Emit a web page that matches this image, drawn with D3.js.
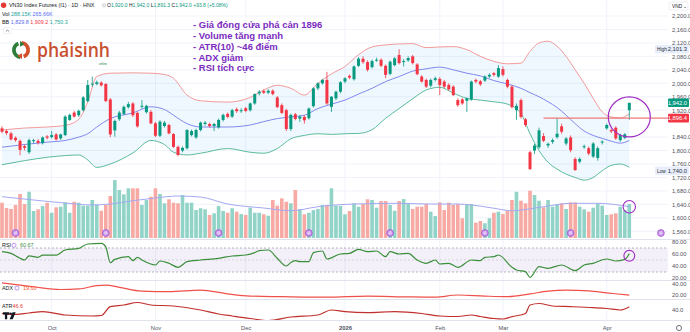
<!DOCTYPE html>
<html><head><meta charset="utf-8">
<script src="https://cdn.jsdelivr.net/npm/d3@7/dist/d3.min.js"></script>
<style>
html,body{margin:0;padding:0;background:#fff;}
svg{display:block;font-family:"Liberation Sans",Arial,sans-serif;}
</style></head><body><div id="chart"></div>
<script>
// ---- data ----
const opens  = [1866,1858,1851,1838,1829,1813,1795,1828,1829,1822,1842,1840,1848,1836,1846,1891,1913,1905,1920,1947,
  1996,1998,2002,1998,1952,1860,1893,1909,1929,1940,1912,1930,1914,1915,1881,1844,1873,1876,1849,1811,
  1800,1807,1846,1839,1861,1879,1879,1873,1869,1891,1909,1901,1923,1920,1926,1920,1940,1970,1977,1972,
  1978,1958,1935,1920,1864,1908,1895,1900,1896,1932,1985,2000,2010,1930,1955,1975,2005,2022,2012,2052,
  2073,2063,2048,2070,2070,2052,2028,2054,2084,2066,2068,2080,2056,2020,2010,1993,2010,2013,2005,1995,
  1990,1950,1952,1948,1952,2010,2006,2008,2020,2030,2020,2042,2010,1990,1920,1950,1893,1795,1800,1810,
  1843,1815,1826,1840,1872,1821,1839,1775,1767,1810,1807,1782,1778,1824,1866,1861,1868,1831,1838,1920];
const highs  = [1872,1862,1856,1842,1833,1818,1836,1835,1834,1842,1846,1858,1852,1850,1905,1910,1918,1922,1962,2010,
  2020,2008,2006,2000,1956,1892,1918,1934,1945,1944,1916,1950,1936,1920,1885,1890,1888,1880,1852,1815,
  1812,1864,1862,1865,1886,1888,1883,1882,1895,1910,1913,1924,1928,1926,1930,1943,1970,1980,1982,1982,
  1982,1962,1940,1924,1910,1912,1906,1905,1928,1988,2003,2013,2034,1962,1978,2006,2018,2026,2053,2078,
  2080,2068,2070,2076,2074,2056,2068,2078,2101,2072,2080,2084,2060,2024,2014,2014,2020,2018,2010,2000,
  1994,1955,1956,1958,2008,2014,2010,2024,2030,2034,2054,2050,2014,1994,1940,1955,1897,1800,1820,1868,
  1852,1824,1836,1896,1880,1840,1845,1780,1780,1818,1812,1825,1812,1830,1880,1866,1872,1850,1852,1942];
const lows   = [1852,1846,1830,1826,1786,1800,1790,1822,1818,1818,1833,1836,1830,1832,1843,1888,1898,1900,1916,1944,
  1990,1994,1990,1944,1840,1841,1888,1905,1925,1900,1868,1925,1910,1878,1840,1840,1868,1848,1808,1783,
  1795,1803,1842,1835,1857,1874,1868,1858,1865,1886,1896,1897,1912,1912,1914,1916,1936,1964,1968,1968,
  1964,1926,1908,1858,1858,1890,1885,1880,1892,1928,1980,1996,1936,1915,1950,1970,2000,2012,2008,2048,
  2058,2035,2044,2064,2048,2015,2024,2050,2056,2050,2064,2056,2024,2002,1986,1988,2005,1965,1985,1978,
  1962,1930,1936,1915,1948,2000,1992,2004,2016,2020,2016,2020,1985,1925,1891,1895,1870,1742,1790,1805,
  1825,1808,1820,1835,1850,1815,1795,1740,1762,1805,1786,1778,1770,1818,1862,1852,1832,1826,1834,1891.3];
const closes = [1856,1852,1833,1831,1802,1808,1831,1831,1823,1839,1838,1846,1833,1848,1901,1906,1901,1918,1958,1995,
  1999,2003,1994,1947,1848,1888,1913,1930,1938,1905,1872,1933,1933,1881,1844,1886,1883,1851,1811,1787,
  1808,1861,1858,1861,1883,1883,1873,1879,1891,1906,1900,1920,1917,1920,1918,1940,1968,1975,1972,1978,
  1968,1929,1912,1864,1906,1894,1901,1890,1925,1985,2000,2010,1940,1960,1975,2003,2015,2017,2050,2073,
  2063,2040,2066,2070,2052,2025,2064,2074,2060,2066,2075,2060,2027,2005,1990,2010,2015,1995,1990,1982,
  1965,1935,1940,1955,2005,2005,1997,2020,2025,2025,2045,2025,1990,1929,1933,1900,1876,1745,1815,1860,
  1829,1820,1831,1850,1856,1836,1801,1742,1775,1813,1791,1821,1807,1827,1876,1857,1836,1846,1848.2,1942];
const volumes = [299,254,246,280,373,288,392,229,243,271,299,214,260,265,302,214,307,299,274,274,
  322,280,231,280,356,491,407,370,421,421,421,280,322,350,421,373,294,328,299,294,
  364,299,299,237,252,243,195,209,271,229,214,252,223,203,195,257,214,214,201,189,
  322,274,336,307,294,407,246,201,214,237,246,280,280,421,274,271,201,229,294,265,
  288,328,322,257,313,313,280,231,313,330,288,246,265,265,288,223,186,302,237,299,
  280,288,167,288,288,130,144,125,167,214,223,203,231,322,392,316,294,401,364,316,
  260,322,265,285,294,246,302,302,265,243,223,257,294,274,195,201,209,265,237,288.15];

const bbIdx   = [0,5,10,14,17,19,21,24,29,33,36,38,41,44,50,55,58,61,64,67,70,73,76,79,82,85,88,91,94,97,
  100,103,106,109,112,115,117,119,121,123,125,127,129,131,133,135,137,139];
const bbUpper = [1861,1867,1870,1875,1893,1945,2020,2030,2031,2030,2026,2015,1965,1948,1944,1958,1980,1994,1985,1965,
  2000,2028,2050,2085,2108,2114,2117,2118,2106,2108,2109,2100,2080,2065,2058,2060,2095,2120,2125,2110,
  2080,2040,2000,1955,1915,1900,1897,1909.2];
const bbBasis = [1810,1818,1825,1830,1840,1850,1870,1895,1912,1930,1922,1905,1880,1870,1870,1876,1886,1895,1900,1905,
  1925,1938,1950,1968,1985,2005,2020,2036,2043,2048,2040,2030,2022,2008,1998,1985,1972,1960,1945,1928,
  1905,1880,1858,1845,1836,1828,1822,1829.8];
const bbLower = [1758,1770,1780,1785,1787,1772,1750,1760,1793,1830,1818,1795,1787,1792,1806,1795,1792,1806,1835,1845,
  1850,1848,1850,1851,1862,1896,1925,1954,1980,1988,1971,1955,1950,1945,1938,1910,1850,1800,1765,1745,
  1730,1720,1712,1720,1740,1756,1760,1750.3];

const volMaIdx = [0,7,14,20,24,29,34,39,44,50,58,64,70,78,88,95,101,104,109,113,120,126,132,139];
const volMaVal = [350,322,296,280,288,316,339,356,347,288,254,231,265,288,294,288,288,280,252,231,265,294,294,265.66];

const rsiIdx = [0,2,4,5,6,8,9,12,14,17,19,22,23,24,25,28,29,30,31,34,35,37,39,41,44,48,51,54,56,57,
  59,61,63,64,65,66,68,69,71,72,75,77,79,81,83,85,86,88,90,92,94,96,97,99,101,104,106,107,109,110,
  113,114,116,117,119,121,124,127,129,131,134,136,138,139];
const rsiVal = [64,61,53,50,57,54.5,58,58,66.7,69.4,76.7,77.8,72,45.6,51,55.5,48.9,54.5,50,41.7,48.3,44.5,37.8,47.2,50,52.8,56.7,58.3,62.2,65.6,
  66.7,52.8,40,46,48.9,47.2,47.2,62.2,65,51.7,60,61,67.8,63.9,65,55.5,63.9,60,61,50,44.5,50,43.3,44.5,37.8,50,49,54.5,55.5,58.3,
  37.8,33.3,30.6,21.1,38.9,36.1,41.7,32.2,41.7,44.5,51.7,48.3,51,60.67];

const adxIdx = [0,7,13,17,21,23,26,31,37,44,50,55,62,72,81,90,96,101,107,112,117,121,125,130,134,139];
const adxVal = [42,35,30,31,37,38,34,27,26,29,22,18,17,16,18,16.5,16,20,18,17,22,27,29,27.5,24,19.6];

const atrIdx = [0,2,6,9,14,20,22,24,27,30,33,38,44,48,51,55,59,64,70,73,76,81,87,93,97,101,104,106,109,111,
  113,116,117,119,122,126,131,134,137,139];
const atrVal = [33,31,34,36.7,30,28,29,46.7,50,55,50,48,40,32,28,23,19,26,30,40,36.7,34.7,36.7,33,28,27,30,27,23,22,
  26.7,33,50,53,48,46.7,44.7,43,40,46.6];

const eventIdx = [3,23,48,68,86,107,126,146];

const tickIdx = [11,34,54,76,97,111,134];
const tickLabels = ['Oct','Nov','Dec','2026','Feb','Mar','Apr'];
const priceTicks = [1560,1600,1640,1680,1720,1760,1800,1840,1920,1960,2000,2040,2080,2120,2160,2200];
const rsiTicks = [20,40,60,80];
const adxTicks = [20,40];
const atrTicks = [40];

const notes = ['- Giá đóng cửa phá cản 1896','- Volume tăng mạnh','- ATR(10) ~46 điểm','- ADX giảm','- RSI tích cực'];
const levelPrice = 1896.4, levelStart = 120;

// ---- setup ----
const width = 690, height = 332, plotR = 668;
const green = '#089981', red = '#f23645';
const svg = d3.select('#chart').append('svg').attr('width', width).attr('height', height);
const defs = svg.append('defs');
function clip(id, y0, y1) {
  defs.append('clipPath').attr('id', id).append('rect').attr('x', 0).attr('y', y0).attr('width', plotR).attr('height', y1 - y0);
}
clip('cP', 0, 239); clip('cR', 240, 280); clip('cA', 281, 299); clip('cT', 300, 320);

const n = closes.length;
const x = d3.scaleLinear().domain([0, n - 1]).range([2, 629.3]);
const yP = d3.scaleLinear().domain([1560, 2200]).range([231.3, 16]);
const yV = d3.scaleLinear().domain([0, 500]).range([238, 179]);
const yR = d3.scaleLinear().domain([0, 100]).range([290, 230]);
const yA = d3.scaleLinear().domain([0, 40]).range([306, 284]);
const yT = d3.scaleLinear().domain([0, 40]).range([330, 310]);

const bars = closes.map((c, i) => ({i, o: opens[i], h: highs[i], l: lows[i], c, v: volumes[i]}));

// grid
const grid = svg.append('g');
grid.selectAll('line.v').data(tickIdx).join('line')
  .attr('x1', d => x(d)).attr('x2', d => x(d)).attr('y1', 0).attr('y2', 320)
  .attr('stroke', '#f0f3fa');
grid.selectAll('line.h').data(priceTicks).join('line')
  .attr('x1', 0).attr('x2', plotR).attr('y1', d => yP(d)).attr('y2', d => yP(d))
  .attr('stroke', '#f0f3fa');
grid.selectAll('line.sep').data([239.5, 280.5, 299.5, 320.5]).join('line')
  .attr('x1', 0).attr('x2', width).attr('y1', d => d).attr('y2', d => d)
  .attr('stroke', '#e0e3eb');

// volume
const pane = svg.append('g').attr('clip-path', 'url(#cP)');
pane.selectAll('rect.vol').data(bars).join('rect')
  .attr('x', d => x(d.i) - 1.8).attr('width', 3.6)
  .attr('y', d => yV(d.v)).attr('height', d => yV(0) - yV(d.v))
  .attr('fill', d => d.c >= d.o ? '#92d3c8' : '#f7a9a3');
const vma = volMaIdx.map((d, k) => [d, volMaVal[k]]);
pane.append('path').datum(vma)
  .attr('d', d3.line().x(d => x(d[0])).y(d => yV(d[1])).curve(d3.curveMonotoneX))
  .attr('fill', 'none').attr('stroke', '#a4a9f2').attr('stroke-width', 1);

// bollinger
const bb = bbIdx.map((d, k) => ({i: d, u: bbUpper[k], m: bbBasis[k], l: bbLower[k]}));
pane.append('path').datum(bb)
  .attr('d', d3.area().x(d => x(d.i)).y0(d => yP(d.l)).y1(d => yP(d.u)).curve(d3.curveMonotoneX))
  .attr('fill', 'rgba(33,150,243,0.07)');
[['u', '#f49a9a'], ['m', '#8088ee'], ['l', '#5cbb9c']].forEach(([k, col]) => {
  pane.append('path').datum(bb)
    .attr('d', d3.line().x(d => x(d.i)).y(d => yP(d[k])).curve(d3.curveMonotoneX))
    .attr('fill', 'none').attr('stroke', col).attr('stroke-width', 1);
});

// candles
pane.selectAll('line.wick').data(bars).join('line')
  .attr('x1', d => x(d.i)).attr('x2', d => x(d.i))
  .attr('y1', d => yP(d.h)).attr('y2', d => yP(d.l))
  .attr('stroke', d => d.c >= d.o ? green : red).attr('stroke-width', 0.8);
pane.selectAll('rect.body').data(bars).join('rect')
  .attr('x', d => x(d.i) - 1.5).attr('width', 3)
  .attr('y', d => yP(Math.max(d.o, d.c)))
  .attr('height', d => Math.max(1, Math.abs(yP(d.o) - yP(d.c))))
  .attr('fill', d => d.c >= d.o ? green : red);

// event markers
const ev = svg.append('g');
ev.selectAll('circle').data(eventIdx).join('circle')
  .attr('cx', d => x(d)).attr('cy', 233).attr('r', 3.4)
  .attr('fill', '#c58ee8').attr('stroke', '#a55ad8').attr('stroke-width', 0.8);
ev.selectAll('path').data(eventIdx).join('path')
  .attr('d', d => `M${x(d) - 1.8},232.2h3.2l-0.8,-0.8M${x(d) + 1.8},233.8h-3.2l0.8,0.8`)
  .attr('fill', 'none').attr('stroke', '#fff').attr('stroke-width', 0.7);

// level line + circles
svg.append('line').attr('x1', x(levelStart)).attr('x2', plotR)
  .attr('y1', yP(levelPrice)).attr('y2', yP(levelPrice))
  .attr('stroke', '#f07878').attr('stroke-width', 1.4);
const circ = '#a02dc4';
svg.append('ellipse').attr('cx', x(n - 1)).attr('cy', yP(1900)).attr('rx', 21).attr('ry', 20)
  .attr('fill', 'none').attr('stroke', circ).attr('stroke-width', 1.2);
svg.append('circle').attr('cx', x(n - 1)).attr('cy', yV(265)).attr('r', 6.2)
  .attr('fill', 'none').attr('stroke', circ).attr('stroke-width', 1.1);

// RSI pane
const rsiG = svg.append('g').attr('clip-path', 'url(#cR)');
rsiG.append('rect').attr('x', 0).attr('width', plotR).attr('y', yR(70)).attr('height', yR(30) - yR(70))
  .attr('fill', 'rgba(126,87,194,0.09)');
[[70, '#9598a1', '2,2'], [30, '#9598a1', '2,2'], [50, '#c4c6cc', '2,2']].forEach(([v, c, da]) => {
  rsiG.append('line').attr('x1', 0).attr('x2', plotR).attr('y1', yR(v)).attr('y2', yR(v))
    .attr('stroke', c).attr('stroke-dasharray', da).attr('stroke-width', 0.7);
});
const rsiPts = rsiIdx.map((d, k) => [d, rsiVal[k]]);
rsiG.append('path').datum(rsiPts)
  .attr('d', d3.line().x(d => x(d[0])).y(d => yR(d[1])).curve(d3.curveMonotoneX))
  .attr('fill', 'none').attr('stroke', '#3b8f3b').attr('stroke-width', 1.2);
svg.append('circle').attr('cx', x(n - 1)).attr('cy', yR(57)).attr('r', 5.4)
  .attr('fill', 'none').attr('stroke', circ).attr('stroke-width', 1.1);

// ADX + ATR panes
const adxPts = adxIdx.map((d, k) => [d, adxVal[k]]);
svg.append('g').attr('clip-path', 'url(#cA)').append('path').datum(adxPts)
  .attr('d', d3.line().x(d => x(d[0])).y(d => yA(d[1])).curve(d3.curveMonotoneX))
  .attr('fill', 'none').attr('stroke', '#f0504a').attr('stroke-width', 1.2);
const atrPts = atrIdx.map((d, k) => [d, atrVal[k]]);
svg.append('g').attr('clip-path', 'url(#cT)').append('path').datum(atrPts)
  .attr('d', d3.line().x(d => x(d[0])).y(d => yT(d[1])).curve(d3.curveMonotoneX))
  .attr('fill', 'none').attr('stroke', '#c0302c').attr('stroke-width', 1.2);

// axes
function rightAxis(scale, ticks, fmt) {
  const g = svg.append('g').attr('transform', `translate(${plotR + 1},0)`)
    .call(d3.axisRight(scale).tickValues(ticks).tickSize(0).tickPadding(3).tickFormat(fmt));
  g.select('.domain').remove();
  g.selectAll('text').attr('font-size', 5.8).attr('fill', '#50535e').attr('font-family', '"Liberation Sans",Arial,sans-serif');
  return g;
}
rightAxis(yP, priceTicks, d3.format(',.1f'));
rightAxis(yR, rsiTicks, d3.format('.2f'));
rightAxis(yA, adxTicks, d3.format('.2f'));
rightAxis(yT, atrTicks, d3.format('.1f'));

const xa = svg.append('g').attr('transform', 'translate(0,323)')
  .call(d3.axisBottom(x).tickValues(tickIdx).tickSize(0).tickPadding(3).tickFormat((d, k) => tickLabels[k]));
xa.select('.domain').remove();
xa.selectAll('text').attr('font-size', 5.8).attr('fill', '#50535e')
  .attr('font-weight', (d, k) => tickLabels[k] === '2026' ? 'bold' : 'normal')
  .attr('font-family', '"Liberation Sans",Arial,sans-serif');

// price tags
function tag(v, bg, fg, label) {
  const y = yP(v);
  const g = svg.append('g');
  g.append('rect').attr('x', label ? 655 : 668).attr('y', y - 4.3).attr('width', label ? 34 : 21).attr('height', 8.6)
    .attr('rx', 1).attr('fill', bg);
  if (label) g.append('text').attr('x', 657).attr('y', y + 2).attr('font-size', 4.8).attr('fill', fg).text(label);
  g.append('text').attr('x', 687).attr('y', y + 2).attr('text-anchor', 'end').attr('font-size', 5.8)
    .attr('fill', fg).text(d3.format(',.1f')(v));
}
tag(2101.3, '#e8eefb', '#2a2e39', 'High');
tag(1740.0, '#e8eefb', '#2a2e39', 'Low');
tag(closes[n - 1], green, '#fff');
tag(levelPrice, red, '#fff');

// currency box & gear
svg.append('rect').attr('x', 669).attr('y', 2).attr('width', 19).attr('height', 8).attr('rx', 1.5)
  .attr('fill', '#fff').attr('stroke', '#e0e3eb').attr('stroke-width', 0.6);
svg.append('text').attr('x', 672).attr('y', 8).attr('font-size', 4.8).attr('fill', '#131722').text('VND ⌄');
svg.append('circle').attr('cx', 679).attr('cy', 328).attr('r', 2.6).attr('fill', 'none')
  .attr('stroke', '#50535e').attr('stroke-width', 0.8);

// legends
const lg = svg.append('g').attr('font-size', 5.4);
lg.append('circle').attr('cx', 3.6).attr('cy', 5.2).attr('r', 2.7).attr('fill', '#e53935');
lg.append('text').attr('x', 9).attr('y', 7.2).attr('fill', '#131722').text('VN30 Index Futures (I1) · 1D · HNX');
lg.append('circle').attr('cx', 104).attr('cy', 5.3).attr('r', 1.5).attr('fill', 'none').attr('stroke', '#9598a1').attr('stroke-width', 0.5);
const ohlc = lg.append('text').attr('x', 107).attr('y', 7.2).attr('font-size', 5);
[['O', opens[n - 1]], ['H', highs[n - 1]], ['L', lows[n - 1]], ['C', closes[n - 1]]].forEach(([k, v]) => {
  ohlc.append('tspan').attr('fill', '#131722').text(k);
  ohlc.append('tspan').attr('fill', green).text(d3.format(',.1f')(v) + ' ');
});
ohlc.append('tspan').attr('fill', green).text('+93.8 (+5.08%)');
const l2 = lg.append('text').attr('x', 2).attr('y', 15.5);
l2.append('tspan').attr('fill', '#131722').text('Vol ');
l2.append('tspan').attr('fill', '#26a69a').text('288.15K ');
l2.append('tspan').attr('fill', '#5b6bf0').text(' 265.66K');
const l3 = lg.append('text').attr('x', 2).attr('y', 24);
l3.append('tspan').attr('fill', '#131722').text('BB ');
l3.append('tspan').attr('fill', '#5b6bf0').text(' 1,829.8 ');
l3.append('tspan').attr('fill', '#f23645').text(' 1,909.2 ');
l3.append('tspan').attr('fill', '#26a69a').text(' 1,750.3');
lg.append('rect').attr('x', 3.5).attr('y', 27.5).attr('width', 8).attr('height', 6).attr('rx', 1)
  .attr('fill', '#fff').attr('stroke', '#e0e3eb').attr('stroke-width', 0.5);
lg.append('path').attr('d', 'M5.8,31.6l1.7,-1.6l1.7,1.6').attr('fill', 'none').attr('stroke', '#131722').attr('stroke-width', 0.5);

function paneLegend(y, name, val, col, iconX) {
  lg.append('text').attr('x', 2).attr('y', y).attr('fill', '#131722').text(name);
  if (iconX) lg.append('circle').attr('cx', iconX).attr('cy', y - 1.9).attr('r', 2).attr('fill', 'none')
    .attr('stroke', '#a46be3').attr('stroke-width', 0.7);
  lg.append('text').attr('x', iconX ? iconX + 6 : 12.5).attr('y', y).attr('fill', col).text(val);
}
paneLegend(247.2, 'RSI', '60.67', '#388e3c', 14);
paneLegend(290, 'ADX', '19.60', '#f4511e', 17);
paneLegend(308, 'ATR', '46.6', '#e53935', 0);

// TradingView mark
const tv = svg.append('g').attr('fill', '#131722');
tv.append('path').attr('d', 'M3,312.3h6.2v2.3h-2v4.6h-2.3v-4.6h-1.9z');
tv.append('circle').attr('cx', 10.6).attr('cy', 313.6).attr('r', 1.2);
tv.append('path').attr('d', 'M12.6,312.3h3.1l-3,6.9h-3.1z');

// annotation
const ann = svg.append('g').attr('font-family', '"Liberation Sans",Arial,sans-serif').attr('font-size', 9.5)
  .attr('font-weight', 'bold').attr('fill', '#7b2cbf');
ann.selectAll('text').data(notes).join('text')
  .attr('x', 193).attr('y', (d, k) => 28.3 + k * 10.75).text(d => d);

// logo
const logo = svg.append('g');
const arc = d3.arc().innerRadius(5.2).outerRadius(9);
logo.append('path').attr('transform', 'translate(21,50)').attr('fill', '#2f7d3a')
  .attr('d', arc({startAngle: -Math.PI * 0.97, endAngle: -Math.PI * 0.12}));
logo.append('path').attr('transform', 'translate(21,50)').attr('fill', '#d3512c')
  .attr('d', arc({startAngle: Math.PI * 0.03, endAngle: Math.PI * 0.88}));
logo.append('path').attr('d', 'M20,41l4.5,3.2l-4.5,2.6z').attr('fill', '#2f7d3a');
logo.append('path').attr('d', 'M22,59l-4.5,-3.2l4.5,-2.6z').attr('fill', '#d3512c');
logo.append('text').attr('x', 37).attr('y', 56.5).attr('font-family', '"Open Sans",sans-serif')
  .attr('font-size', 20).attr('font-weight', 600).attr('fill', '#c9502e')
  .attr('textLength', 73).attr('lengthAdjust', 'spacingAndGlyphs').text('pháisinh');
logo.append('text').attr('x', 99).attr('y', 65).attr('font-size', 3).attr('fill', '#2f7d3a').text('online');
</script></body></html>
